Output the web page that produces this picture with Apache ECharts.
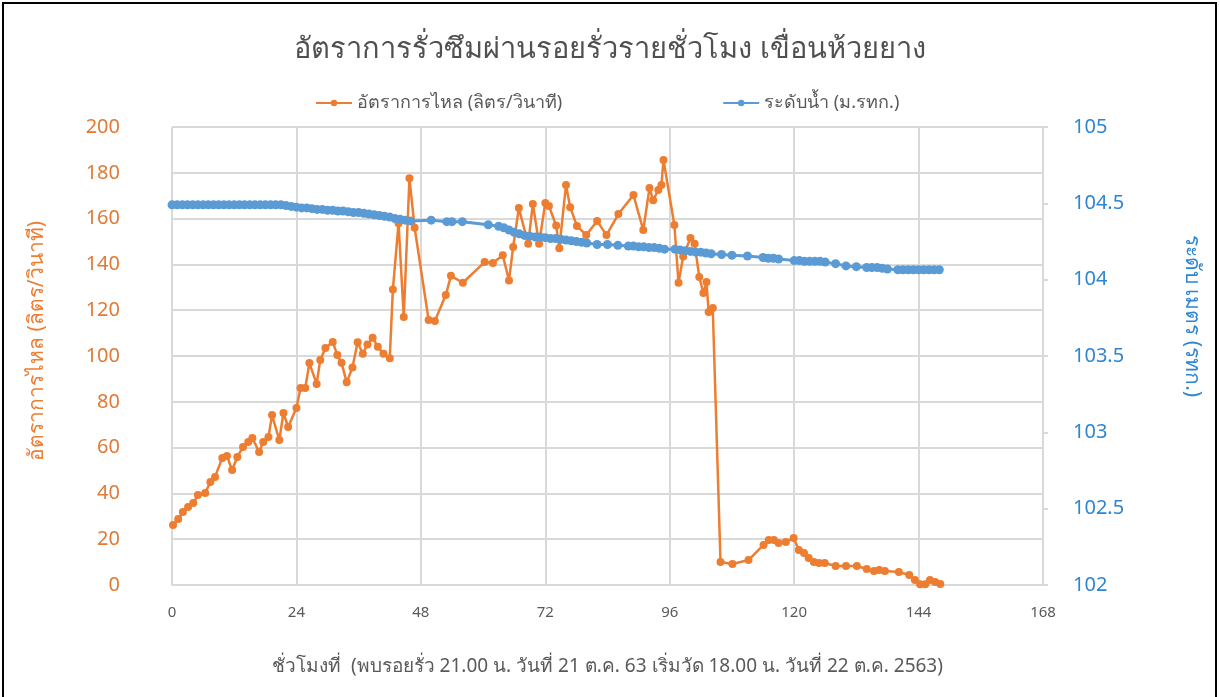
<!DOCTYPE html>
<html>
<head>
    <meta charset="utf-8">
    <title>Seepage</title>
    <script src="https://cdn.jsdelivr.net/npm/echarts@6/dist/echarts.min.js"></script>
    <style>
        html, body { margin: 0; padding: 0; background: #fff; }
    </style>
</head>
<body>
    <div id="main" style="width: 1220px;height:697px;"></div>

    <script>
        // ชั่วโมง / อัตราการไหล (ลิตร/วินาที)
        var flowHours = [0.2, 1.2, 2.1, 3.1, 4.1, 5.0, 6.4, 7.4, 8.3, 9.7, 10.6, 11.6, 12.6, 13.7, 14.7, 15.5,
            16.8, 17.6, 18.6, 19.3, 20.7, 21.5, 22.4, 24.0, 24.8, 25.7, 26.5, 27.9, 28.6, 29.6, 31.0, 31.9,
            32.7, 33.7, 34.8, 35.8, 36.8, 37.7, 38.7, 39.7, 40.8, 42.0, 42.6, 43.7, 44.7, 45.8, 46.8,
            49.5, 50.7, 52.8, 53.8, 56.1, 60.3, 61.9, 63.8, 65.0, 65.8, 66.9, 68.7, 69.6, 70.8, 72.0,
            72.7, 74.1, 74.7, 76.0, 76.8, 78.1, 79.9, 82.0, 83.8, 86.1, 89.0, 90.9, 92.1, 92.8, 93.8,
            94.4, 94.8, 96.9, 97.7, 98.6, 100.0, 100.8, 101.7, 102.5, 103.1, 103.5, 104.3, 105.8,
            108.1, 111.2, 114.1, 115.1, 116.1, 117.0, 118.4, 119.9, 120.9, 121.9, 122.8, 123.8, 124.8,
            125.9, 128.0, 130.0, 132.1, 134.0, 135.4, 136.4, 137.5, 140.2, 142.2, 143.3, 144.3, 145.3,
            146.2, 147.2, 148.2];
        var flowValues = [26.2, 28.8, 31.9, 34.1, 35.8, 39.3, 40.2, 45, 47.2, 55.5, 56.3, 50.2, 55.9, 60.3, 62.4, 64.2,
            58.1, 62.4, 64.6, 74.2, 63.3, 75.1, 69, 77.3, 86, 86, 96.9, 87.8, 98.3, 103.5, 106.1, 100.4,
            97, 88.5, 95, 106, 101, 105, 108, 104, 101, 99, 129, 158, 117, 177.6, 156,
            115.7, 115.3, 126.6, 135, 132, 141, 140.6, 144, 133, 147.6, 164.6, 149, 166.4, 149, 166.8,
            165.5, 157, 147, 174.7, 165, 156.8, 152.8, 159, 152.8, 162, 170.3, 155, 173.4, 168, 172.5,
            174.7, 185.6, 157.2, 132, 143.5, 151.5, 149, 134.5, 127.5, 132.3, 119.2, 121, 10,
            9.2, 10.9, 17.5, 19.7, 19.7, 18.3, 18.8, 20.5, 15.3, 14, 11.8, 10, 9.6,
            9.6, 8.3, 8.3, 8.3, 7, 6.1, 6.6, 6.1, 5.7, 4.4, 2.2, 0.3, 0.3,
            2.2, 1.3, 0.4];

        // ชั่วโมง / ระดับน้ำ (ม.รทก.)
        var levelHours = [0, 1, 2, 3, 4, 5, 6, 7, 8, 9, 10, 11, 12, 13, 14, 15, 16, 17, 18, 19, 20, 21,
            22, 23, 24, 25, 26, 27, 28, 29, 30, 31, 32, 33, 34, 35, 36, 37, 38, 39, 40, 41, 42, 43, 44,
            45, 46, 50, 53, 54, 56, 61, 63, 64, 65, 66, 67, 68, 69, 70, 71, 72, 73, 74, 75, 76, 77, 78,
            79, 80, 82, 84, 86, 88, 89, 90, 91, 92, 93, 94, 95, 97, 98, 99, 100, 101, 102, 103, 104,
            106, 108, 111, 114, 115, 116, 117, 120, 121, 122, 123, 124, 125, 126, 128, 130, 132, 134,
            135, 136, 137, 138, 140, 141, 142, 143, 144, 145, 146, 147, 148];
        var levelValues = [104.49, 104.49, 104.49, 104.49, 104.49, 104.49, 104.49, 104.49, 104.49, 104.49,
            104.49, 104.49, 104.49, 104.49, 104.49, 104.49, 104.49, 104.49, 104.49, 104.49, 104.49, 104.49,
            104.485, 104.48, 104.475, 104.47, 104.47, 104.465, 104.46, 104.46, 104.455, 104.455, 104.45,
            104.45, 104.445, 104.44, 104.44, 104.435, 104.43, 104.425, 104.42, 104.415, 104.41, 104.40,
            104.395, 104.39, 104.385, 104.39, 104.38, 104.38, 104.38, 104.36, 104.35, 104.34, 104.325,
            104.31, 104.30, 104.29, 104.285, 104.28, 104.28, 104.275, 104.27, 104.27, 104.265, 104.26,
            104.255, 104.25, 104.245, 104.24, 104.23, 104.23, 104.225, 104.22, 104.22, 104.215, 104.215,
            104.21, 104.21, 104.205, 104.2, 104.2, 104.195, 104.19, 104.185, 104.18, 104.18, 104.175,
            104.17, 104.165, 104.16, 104.155, 104.145, 104.14, 104.14, 104.135, 104.125, 104.125, 104.12,
            104.12, 104.12, 104.12, 104.115, 104.105, 104.09, 104.085, 104.08, 104.08, 104.08, 104.075,
            104.07, 104.065, 104.065, 104.065, 104.065, 104.065, 104.065, 104.065, 104.065, 104.065];

        var flowData = flowHours.map(function (h, i) { return [h, flowValues[i]]; });
        var levelData = levelHours.map(function (h, i) { return [h, levelValues[i]]; });

        var font = 'Tahoma, "Noto Sans", sans-serif';
        var orange = '#ED7D31';
        var blue = '#5B9BD5';

        var myChart = echarts.init(document.getElementById('main'));

        var option = {
            backgroundColor: '#fff',
            textStyle: { fontFamily: font },
            animation: false,
            title: {
                text: 'อัตราการรั่วซึมผ่านรอยรั่วรายชั่วโมง เขื่อนห้วยยาง',
                left: 'center',
                top: 30,
                textStyle: { color: '#505050', fontSize: 29, fontWeight: 'normal', fontFamily: font }
            },
            legend: {
                top: 89,
                left: 310,
                itemGap: 160,
                itemWidth: 36,
                itemHeight: 8,
                textStyle: { color: '#595959', fontSize: 18, fontFamily: font },
                data: ['อัตราการไหล (ลิตร/วินาที)', 'ระดับน้ำ (ม.รทก.)']
            },
            grid: { left: 172, right: 177, top: 127, bottom: 112 },
            xAxis: {
                type: 'value',
                min: 0,
                max: 168,
                interval: 24,
                name: 'ชั่วโมงที่  (พบรอยรั่ว 21.00 น. วันที่ 21 ต.ค. 63 เริ่มวัด 18.00 น. วันที่ 22 ต.ค. 2563)',
                nameLocation: 'middle',
                nameGap: 72,
                nameTextStyle: { color: '#595959', fontSize: 19 },
                axisLine: { show: true, lineStyle: { color: '#D9D9D9', width: 2 } },
                axisTick: { show: false },
                axisLabel: { color: '#595959', fontSize: 15, margin: 20 },
                splitLine: { show: true, lineStyle: { color: '#D9D9D9', width: 2 } }
            },
            yAxis: [{
                type: 'value',
                min: 0,
                max: 200,
                interval: 20,
                name: 'อัตราการไหล (ลิตร/วินาที)',
                nameLocation: 'middle',
                nameGap: 124,
                nameTextStyle: { color: orange, fontSize: 21, padding: [0, 0, 0, 30] },
                axisLine: { show: false },
                axisTick: { show: false },
                axisLabel: { color: '#E07A34', fontSize: 20, margin: 52 },
                splitLine: { show: true, lineStyle: { color: '#D9D9D9', width: 2 } }
            }, {
                type: 'value',
                min: 102,
                max: 105,
                interval: 0.5,
                position: 'right',
                name: 'ระดับ เมตร (รทก.)',
                nameLocation: 'middle',
                nameRotate: -90,
                nameGap: 138,
                nameTextStyle: { color: '#2E86D0', fontSize: 21, padding: [0, 80, 0, 0] },
                axisLine: { show: true, lineStyle: { color: '#D9D9D9', width: 2 } },
                axisTick: { show: true, length: 5, lineStyle: { color: '#D9D9D9', width: 2 } },
                axisLabel: { color: '#2E86D0', fontSize: 20, margin: 30 },
                splitLine: { show: false }
            }],
            series: [{
                name: 'อัตราการไหล (ลิตร/วินาที)',
                type: 'line',
                yAxisIndex: 0,
                data: flowData,
                symbol: 'circle',
                symbolSize: 8,
                lineStyle: { color: orange, width: 2.5 },
                itemStyle: { color: orange },
                z: 3
            }, {
                name: 'ระดับน้ำ (ม.รทก.)',
                type: 'line',
                yAxisIndex: 1,
                data: levelData,
                symbol: 'circle',
                symbolSize: 9,
                lineStyle: { color: blue, width: 3 },
                itemStyle: { color: blue },
                z: 4
            }],
            graphic: [{
                type: 'rect',
                shape: { x: 3, y: 3, width: 1213, height: 720 },
                style: { fill: 'none', stroke: '#000', lineWidth: 2 },
                silent: true
            }]
        };

        myChart.setOption(option);
    </script>
</body>
</html>
